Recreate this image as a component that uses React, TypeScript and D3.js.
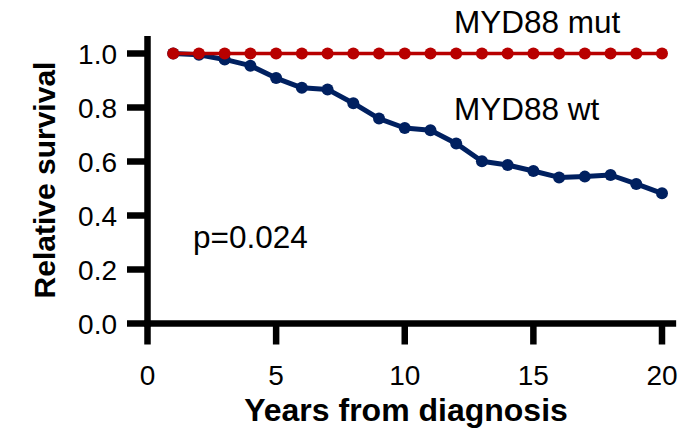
import React from 'react';
import * as d3 from 'd3';

const years = [1, 2, 3, 4, 5, 6, 7, 8, 9, 10, 11, 12, 13, 14, 15, 16, 17, 18, 19, 20];
const wtSurvival = [1.0, 0.995, 0.978, 0.955, 0.909, 0.873, 0.867, 0.816, 0.759, 0.724, 0.716, 0.667, 0.601, 0.587, 0.565, 0.541, 0.544, 0.55, 0.517, 0.482];
const mutSurvival = [1, 1, 1, 1, 1, 1, 1, 1, 1, 1, 1, 1, 1, 1, 1, 1, 1, 1, 1, 1];
const xTicks = [0, 5, 10, 15, 20];
const yTicks = [0, 0.2, 0.4, 0.6, 0.8, 1.0];

const W = 693;
const H = 431;
const font = 'Liberation Sans, Arial, sans-serif';

const App: React.FC = () => {
  const x = d3.scaleLinear().domain([0, 20]).range([147.5, 662]);
  const y = d3.scaleLinear().domain([0, 1]).range([323.5, 53.5]);

  const line = d3.line<number>()
    .x((_, i) => x(years[i]))
    .y(d => y(d));

  const red = '#b80000';
  const blue = '#002060';
  const axisW = 6.5;

  return (
    <svg width={W} height={H} style={{ position: 'absolute', left: 0, top: 0 }}>
      {/* axes */}
      <line x1={x(0)} x2={x(0)} y1={y(1.065)} y2={y(0) + axisW / 2} stroke="#000" strokeWidth={axisW} />
      <line x1={x(0) - axisW / 2} x2={x(20.55)} y1={y(0)} y2={y(0)} stroke="#000" strokeWidth={axisW} />
      {yTicks.map(t => (
        <g key={'y' + t}>
          <line x1={127} x2={x(0)} y1={y(t)} y2={y(t)} stroke="#000" strokeWidth={axisW} />
          <text x={117} y={y(t)} dy="0.36em" textAnchor="end" fontFamily={font} fontSize={28}>{t.toFixed(1)}</text>
        </g>
      ))}
      {xTicks.map(t => (
        <g key={'x' + t}>
          <line x1={x(t)} x2={x(t)} y1={y(0)} y2={344.5} stroke="#000" strokeWidth={axisW} />
          <text x={x(t)} y={385} textAnchor="middle" fontFamily={font} fontSize={28}>{t}</text>
        </g>
      ))}
      <text x={406} y={421} textAnchor="middle" fontFamily={font} fontSize={32} fontWeight="bold">Years from diagnosis</text>
      <text transform={`translate(55,180) rotate(-90)`} textAnchor="middle" fontFamily={font} fontSize={30} fontWeight="bold">Relative survival</text>

      {/* series */}
      <path d={line(wtSurvival) || ''} fill="none" stroke={blue} strokeWidth={5} strokeLinejoin="round" />
      {wtSurvival.map((v, i) => (
        <circle key={'w' + i} cx={x(years[i])} cy={y(v)} r={6} fill={blue} />
      ))}
      <path d={line(mutSurvival) || ''} fill="none" stroke={red} strokeWidth={3.5} />
      {mutSurvival.map((v, i) => (
        <circle key={'m' + i} cx={x(years[i])} cy={y(v)} r={6} fill={red} />
      ))}

      {/* annotations */}
      <text x={454} y={33} fontFamily={font} fontSize={31.5}>MYD88 mut</text>
      <text x={454} y={120} fontFamily={font} fontSize={31.5}>MYD88 wt</text>
      <text x={193} y={248} fontFamily={font} fontSize={31.5}>p=0.024</text>
    </svg>
  );
};

export default App;
